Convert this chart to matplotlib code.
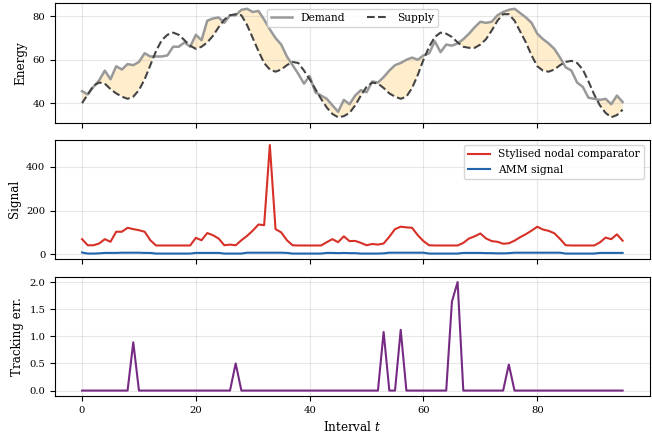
import matplotlib
matplotlib.use('Agg')
import matplotlib.pyplot as plt
import numpy as np

plt.rcParams['font.family'] = 'DejaVu Serif'
plt.rcParams['mathtext.fontset'] = 'dejavuserif'

# interval index
t = np.arange(96)

demand = [
    45.5, 44.0, 47.5, 50.5, 55.0, 51.0, 57.0, 55.5, 58.0, 57.5, 59.0, 63.0,
    61.5, 61.5, 61.5, 62.0, 66.0, 66.0, 68.0, 66.0, 71.5, 69.0, 78.0, 79.0,
    79.5, 77.0, 80.5, 80.5, 83.0, 83.5, 82.0, 82.5, 78.5, 74.0, 70.0, 67.0,
    61.5, 57.5, 53.5, 49.0, 52.5, 45.0, 43.5, 42.0, 39.0, 36.0, 41.5, 39.5,
    43.5, 46.0, 45.0, 50.0, 49.5, 52.0, 55.0, 57.5, 58.5, 60.0, 61.0, 60.0,
    62.0, 63.0, 68.5, 63.5, 67.0, 66.5, 67.5, 69.5, 72.0, 75.0, 77.5, 77.0,
    77.5, 80.5, 82.0, 83.0, 83.5, 81.5, 79.5, 77.0, 72.0, 69.5, 67.5, 65.0,
    61.0, 56.5, 55.0, 49.5, 47.5, 42.5, 42.0, 41.5, 42.0, 39.5, 43.5, 40.5,
]

supply = [
    40.0, 44.0, 48.0, 49.5, 49.0, 46.5, 44.5, 43.0, 42.0, 43.0, 46.0, 51.0,
    57.5, 64.0, 69.0, 71.5, 72.5, 71.5, 69.0, 66.5, 65.0, 66.0, 68.0, 71.0,
    75.0, 78.5, 80.5, 81.0, 80.5, 76.0, 70.0, 64.0, 58.5, 55.5, 54.5, 55.5,
    57.5, 59.0, 58.5, 55.0, 51.0, 46.5, 42.0, 38.0, 35.0, 33.5, 34.0, 35.5,
    39.0, 43.5, 47.5, 49.5, 49.0, 47.0, 44.5, 43.0, 42.0, 43.0, 47.0, 53.0,
    60.0, 66.0, 70.5, 72.5, 72.0, 70.5, 68.0, 66.0, 65.5, 65.5, 67.0, 69.5,
    73.5, 78.0, 81.0, 81.0, 78.0, 73.0, 68.0, 62.0, 57.0, 55.0, 54.5, 55.5,
    57.5, 59.0, 59.5, 58.5, 55.5, 50.0, 44.0, 39.0, 35.5, 33.5, 34.5, 37.0,
]

nodal = [
    69, 41, 41, 49, 69, 57, 103, 103, 121, 115, 110, 103,
    64, 40, 40, 40, 40, 40, 40, 40, 75, 64, 97, 87,
    72, 41, 44, 41, 64, 84, 108, 136, 133, 500, 115, 100,
    64, 41, 40, 40, 40, 40, 40, 55, 69, 55, 82, 60,
    61, 52, 41, 47, 44, 49, 80, 115, 126, 123, 121, 87,
    60, 41, 40, 40, 40, 40, 40, 52, 72, 82, 95, 72,
    60, 57, 48, 50, 62, 78, 92, 108, 126, 113, 107, 96,
    70, 41, 40, 40, 40, 40, 40, 54, 76, 69, 91, 62,
]

amm = [
    8, 3, 3, 4, 6, 6, 6, 7, 7, 7, 7, 6,
    6, 3, 3, 3, 3, 3, 3, 3, 6, 6, 6, 6,
    6, 3, 3, 3, 3, 7, 7, 7, 7, 7, 7, 7,
    6, 3, 3, 3, 3, 3, 3, 6, 6, 5, 6, 5,
    5, 3, 3, 3, 3, 4, 7, 7, 7, 7, 7, 7,
    7, 3, 3, 3, 3, 3, 3, 6, 6, 6, 6, 5,
    5, 4, 4, 5, 7, 7, 7, 7, 7, 7, 7, 7,
    7, 3, 3, 3, 3, 3, 3, 6, 6, 6, 6, 6,
]

track_err = [
    0, 0, 0, 0, 0, 0, 0, 0, 0, 0.89, 0, 0,
    0, 0, 0, 0, 0, 0, 0, 0, 0, 0, 0, 0,
    0, 0, 0, 0.50, 0, 0, 0, 0, 0, 0, 0, 0,
    0, 0, 0, 0, 0, 0, 0, 0, 0, 0, 0, 0,
    0, 0, 0, 0, 0, 1.08, 0, 0, 1.12, 0, 0, 0,
    0, 0, 0, 0, 0, 1.64, 2.00, 0, 0, 0, 0, 0,
    0, 0, 0, 0.48, 0, 0, 0, 0, 0, 0, 0, 0,
    0, 0, 0, 0, 0, 0, 0, 0, 0, 0, 0, 0,
]

demand = np.array(demand)
supply = np.array(supply)

fig = plt.figure(figsize=(6.52, 4.38), dpi=100)
left, width, h = 0.0844, 0.912, 0.2725
ax1 = fig.add_axes([left, 0.7199, width, h])
ax2 = fig.add_axes([left, 0.4087, width, h], sharex=ax1)
ax3 = fig.add_axes([left, 0.0959, width, h], sharex=ax1)

# top: demand vs supply
ax1.plot(t, demand, color='#999999', linewidth=1.8, label='Demand')
ax1.plot(t, supply, color='#444444', linewidth=1.5, linestyle='--', label='Supply')
ax1.fill_between(t, demand, supply, where=demand >= supply, interpolate=True,
                 color='orange', alpha=0.2, linewidth=0)
ax1.set_ylabel('Energy', fontsize=8.6)
ax1.legend(loc='upper center', ncol=2, fontsize=7.7, bbox_to_anchor=(0.5, 1.0))

# middle: signals
ax2.plot(t, nodal, color='#d73027', linewidth=1.5, label='Stylised nodal comparator')
ax2.plot(t, amm, color='#2166ac', linewidth=1.5, label='AMM signal')
ax2.set_ylabel('Signal', fontsize=8.6)
ax2.set_yticks([0, 200, 400])
ax2.legend(loc='upper right', fontsize=7.7)

# bottom: tracking error
ax3.plot(t, track_err, color='#762a83', linewidth=1.5)
ax3.set_ylabel('Tracking err.', fontsize=8.6)
ax3.set_xlabel('Interval $t$', fontsize=8.6)
ax3.set_yticks([0.0, 0.5, 1.0, 1.5, 2.0])

for ax in (ax1, ax2, ax3):
    ax.grid(True, alpha=0.3)
    ax.tick_params(labelsize=7.2)
for ax in (ax1, ax2):
    ax.tick_params(labelbottom=False)

fig.align_ylabels([ax1, ax2, ax3])
plt.savefig('out.png', dpi=100)
